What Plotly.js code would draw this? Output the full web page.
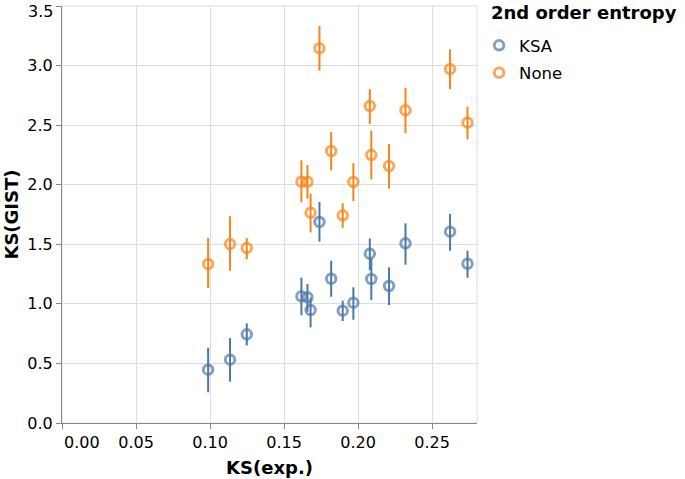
<!DOCTYPE html>
<html>
<head>
<meta charset="utf-8">
<script src="https://cdn.plot.ly/plotly-3.0.1.min.js"></script>
<style>html,body{margin:0;padding:0;background:#fff;}#chart{width:685px;height:479px;}</style>
</head>
<body>
<div id="chart"></div>
<script>
// KS(exp.) values shared by both series
const ksExp = [0.0987, 0.1135, 0.1248, 0.1617, 0.1658, 0.1679, 0.1739, 0.1818, 0.1896, 0.1968, 0.2079, 0.2089, 0.2209, 0.2320, 0.2621, 0.2739];

// 2nd order entropy = KSA
const ksaGist  = [0.448, 0.532, 0.744, 1.063, 1.055, 0.948, 1.687, 1.211, 0.943, 1.010, 1.421, 1.209, 1.150, 1.508, 1.606, 1.337];
const ksaPlus  = [0.184, 0.181, 0.093, 0.157, 0.112, 0.104, 0.168, 0.151, 0.084, 0.129, 0.129, 0.173, 0.157, 0.168, 0.148, 0.109];
const ksaMinus = [0.190, 0.185, 0.092, 0.159, 0.121, 0.145, 0.165, 0.151, 0.087, 0.143, 0.137, 0.177, 0.160, 0.179, 0.160, 0.117];

// 2nd order entropy = None
const noneGist  = [1.335, 1.502, 1.469, 2.025, 2.025, 1.765, 3.145, 2.283, 1.743, 2.023, 2.661, 2.249, 2.157, 2.625, 2.971, 2.521];
const nonePlus  = [0.218, 0.235, 0.084, 0.180, 0.141, 0.160, 0.187, 0.159, 0.101, 0.159, 0.142, 0.204, 0.185, 0.189, 0.166, 0.134];
const noneMinus = [0.202, 0.224, 0.095, 0.173, 0.142, 0.165, 0.188, 0.162, 0.104, 0.160, 0.151, 0.204, 0.190, 0.193, 0.168, 0.140];

const seriesNames = ['KSA', 'None'];
const xTicks = [0, 0.05, 0.10, 0.15, 0.20, 0.25];
const xTickLabels = ['0.00', '0.05', '0.10', '0.15', '0.20', '0.25'];
const yTicks = [0, 0.5, 1.0, 1.5, 2.0, 2.5, 3.0, 3.5];
const yTickLabels = ['0.0', '0.5', '1.0', '1.5', '2.0', '2.5', '3.0', '3.5'];

const colors = ['#4c78a8', '#f58518'];
const font = 'DejaVu Sans, sans-serif';

function errTrace(y, plus, minus, color) {
  return {
    type: 'scatter', mode: 'markers', x: ksExp, y: y,
    marker: {size: 1, opacity: 0, color: color},
    error_y: {type: 'data', symmetric: false, array: plus, arrayminus: minus, thickness: 2, width: 0, color: color},
    showlegend: false, hoverinfo: 'skip'
  };
}
function ptTrace(y, name, color, group) {
  return {
    type: 'scatter', mode: 'markers', x: ksExp, y: y, name: name, legendgroup: group,
    marker: {symbol: 'circle-open', size: 9.5, opacity: 0.7, color: color, line: {width: 3, color: color}}
  };
}

const data = [
  errTrace(ksaGist, ksaPlus, ksaMinus, colors[0]),
  errTrace(noneGist, nonePlus, noneMinus, colors[1]),
  ptTrace(ksaGist, seriesNames[0], colors[0], 'g1'),
  ptTrace(noneGist, seriesNames[1], colors[1], 'g2')
];

const lastY = yTicks.length - 1;

const layout = {
  width: 685, height: 479,
  margin: {l: 62, r: 208, t: 6, b: 56, pad: 0},
  paper_bgcolor: '#fff', plot_bgcolor: '#fff',
  font: {family: font, size: 16, color: '#000'},
  xaxis: {
    range: [0, 0.2803], tickmode: 'array', tickvals: xTicks, ticktext: ['', ...xTickLabels.slice(1)],
    showgrid: true, gridcolor: '#ddd', gridwidth: 1, zeroline: false,
    showline: true, linecolor: '#888', linewidth: 1,
    ticks: 'outside', ticklen: 5, tickcolor: '#888', tickwidth: 1,
    tickfont: {family: font, size: 16, color: '#000'},
    title: {text: 'KS(exp.)', font: {family: font, size: 18, color: '#000', weight: 'bold'}, standoff: 10}
  },
  yaxis: {
    range: [0, 3.5005], tickmode: 'array', tickvals: yTicks,
    ticktext: [...yTickLabels.slice(0, lastY), ''],
    showgrid: true, gridcolor: '#ddd', gridwidth: 1, zeroline: false,
    showline: true, linecolor: '#888', linewidth: 1,
    ticks: 'outside', ticklen: 5, tickcolor: '#888', tickwidth: 1,
    tickfont: {family: font, size: 16, color: '#000'},
    title: {text: 'KS(GIST)', font: {family: font, size: 18, color: '#000', weight: 'bold'}, standoff: 4}
  },
  shapes: [{type: 'rect', xref: 'paper', yref: 'paper', x0: 0, x1: 1, y0: 0, y1: 1, line: {color: '#ddd', width: 1}, layer: 'below'}],
  annotations: [
    {xref: 'x', yref: 'paper', x: 0, y: 0, yshift: -8, xanchor: 'left', yanchor: 'top', showarrow: false,
     text: xTickLabels[0], font: {family: font, size: 16, color: '#000'}},
    {xref: 'paper', yref: 'y', x: 0, xshift: -8, y: yTicks[lastY], yshift: 5, xanchor: 'right', yanchor: 'top', showarrow: false,
     borderpad: 0, text: yTickLabels[lastY], font: {family: font, size: 16, color: '#000'}},
    {xref: 'paper', yref: 'paper', x: (489 - 62) / 415, y: 1, yshift: 6, xanchor: 'left', yanchor: 'top', showarrow: false,
     text: '<b>2nd order entropy</b>', font: {family: font, size: 18, color: '#000'}}
  ],
  legend: {
    x: 1.005, y: 0.947, xanchor: 'left', yanchor: 'top',
    font: {family: font, size: 16.5, color: '#000'},
    tracegroupgap: 3, bgcolor: 'rgba(0,0,0,0)', borderwidth: 0
  }
};

Plotly.newPlot('chart', data, layout, {displayModeBar: false, staticPlot: true});
</script>
</body>
</html>
